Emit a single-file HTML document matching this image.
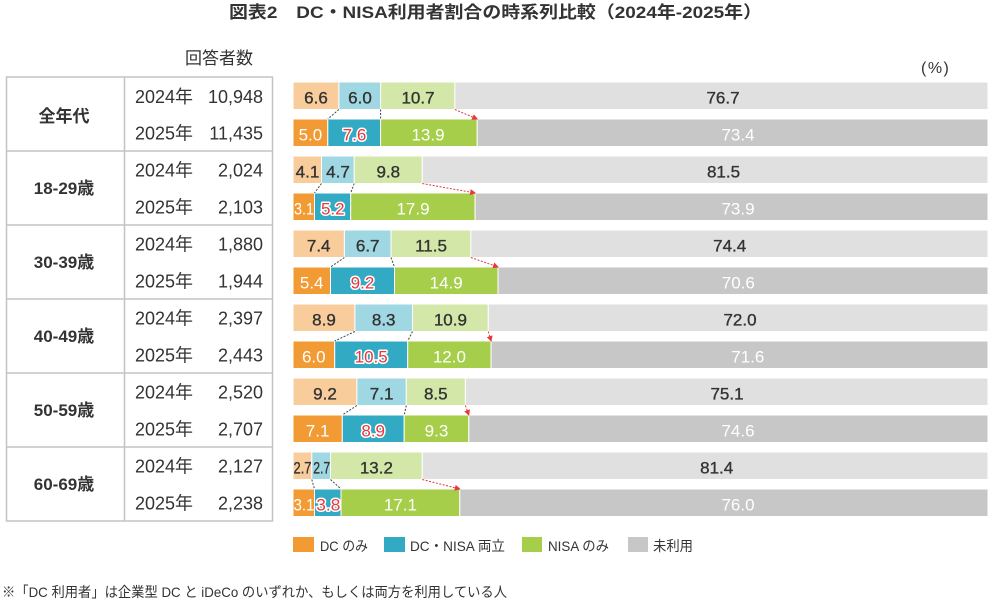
<!DOCTYPE html>
<html>
<head>
<meta charset="utf-8">
<style>
html,body{margin:0;padding:0;background:#fff;}
svg{display:block;}
text{font-family:"Liberation Sans","Noto Sans CJK JP",sans-serif;fill:#333;}
.t{font-size:18px;}
.g{font-size:17px;font-weight:bold;}
.n{font-size:17px;text-anchor:middle;}
.d{fill:#333;stroke:#333;stroke-width:0.35px;}
.w{fill:#fff;}
.r{fill:#e8383d;stroke:#fff;stroke-width:3px;paint-order:stroke;stroke-linejoin:round;}
.lg{font-size:14px;}
</style>
</head>
<body>
<svg width="1000" height="602" viewBox="0 0 1000 602" xmlns="http://www.w3.org/2000/svg">
<defs>
<marker id="ar" markerWidth="6" markerHeight="6" refX="5" refY="3" orient="auto" markerUnits="userSpaceOnUse">
<path d="M0,0 L6,3 L0,6 Z" fill="#e8383d"/>
</marker>
</defs>

<!-- Title -->
<text x="229" y="18" font-size="17" font-weight="bold" textLength="533" lengthAdjust="spacingAndGlyphs">図表2　DC・NISA利用者割合の時系列比較（2024年-2025年）</text>

<text x="185" y="64" font-size="17" textLength="68" lengthAdjust="spacingAndGlyphs">回答者数</text>
<text x="921" y="73" font-size="16" letter-spacing="1.5">(%)</text>

<!-- Table -->
<g stroke="#c3c3c3" stroke-width="1.5" fill="none">
<rect x="6.5" y="77" width="266" height="444"/>
<line x1="124.5" y1="77" x2="124.5" y2="521"/>
<line x1="6" y1="151" x2="273" y2="151"/>
<line x1="6" y1="225" x2="273" y2="225"/>
<line x1="6" y1="299" x2="273" y2="299"/>
<line x1="6" y1="373" x2="273" y2="373"/>
<line x1="6" y1="447" x2="273" y2="447"/>
</g>

<g class="g" text-anchor="middle">
<text x="64" y="122">全年代</text>
<text x="64" y="194">18-29歳</text>
<text x="64" y="268">30-39歳</text>
<text x="64" y="342">40-49歳</text>
<text x="64" y="416">50-59歳</text>
<text x="64" y="490">60-69歳</text>
</g>

<g class="t">
<text x="135" y="103" textLength="58" lengthAdjust="spacingAndGlyphs">2024年</text>
<text x="135" y="139.5" textLength="58" lengthAdjust="spacingAndGlyphs">2025年</text>
<text x="135" y="176.5" textLength="58" lengthAdjust="spacingAndGlyphs">2024年</text>
<text x="135" y="213.5" textLength="58" lengthAdjust="spacingAndGlyphs">2025年</text>
<text x="135" y="250.5" textLength="58" lengthAdjust="spacingAndGlyphs">2024年</text>
<text x="135" y="287.5" textLength="58" lengthAdjust="spacingAndGlyphs">2025年</text>
<text x="135" y="324.5" textLength="58" lengthAdjust="spacingAndGlyphs">2024年</text>
<text x="135" y="361.5" textLength="58" lengthAdjust="spacingAndGlyphs">2025年</text>
<text x="135" y="398.5" textLength="58" lengthAdjust="spacingAndGlyphs">2024年</text>
<text x="135" y="435.5" textLength="58" lengthAdjust="spacingAndGlyphs">2025年</text>
<text x="135" y="472.5" textLength="58" lengthAdjust="spacingAndGlyphs">2024年</text>
<text x="135" y="509.5" textLength="58" lengthAdjust="spacingAndGlyphs">2025年</text>
</g>
<g class="t" text-anchor="end">
<text x="263" y="103">10,948</text>
<text x="263" y="139.5">11,435</text>
<text x="263" y="176.5">2,024</text>
<text x="263" y="213.5">2,103</text>
<text x="263" y="250.5">1,880</text>
<text x="263" y="287.5">1,944</text>
<text x="263" y="324.5">2,397</text>
<text x="263" y="361.5">2,443</text>
<text x="263" y="398.5">2,520</text>
<text x="263" y="435.5">2,707</text>
<text x="263" y="472.5">2,127</text>
<text x="263" y="509.5">2,238</text>
</g>

<!-- Bars -->
<g stroke="#fff" stroke-width="1">
<rect x="293" y="82" width="45.9" height="27.5" fill="#f9cc9b"/>
<rect x="338.9" y="82" width="41.7" height="27.5" fill="#9fd7e3"/>
<rect x="380.6" y="82" width="74.3" height="27.5" fill="#d3e8a8"/>
<rect x="454.9" y="82" width="533.1" height="27.5" fill="#e0e0e0"/>
<rect x="293" y="119" width="34.8" height="27.5" fill="#f29b35"/>
<rect x="327.8" y="119" width="52.8" height="27.5" fill="#33aac3"/>
<rect x="380.6" y="119" width="96.6" height="27.5" fill="#a6ce4a"/>
<rect x="477.2" y="119" width="510.8" height="27.5" fill="#c7c7c7"/>
<rect x="293" y="156" width="28.5" height="27.5" fill="#f9cc9b"/>
<rect x="321.5" y="156" width="32.7" height="27.5" fill="#9fd7e3"/>
<rect x="354.2" y="156" width="68.1" height="27.5" fill="#d3e8a8"/>
<rect x="422.3" y="156" width="565.7" height="27.5" fill="#e0e0e0"/>
<rect x="293" y="193" width="21.5" height="27.5" fill="#f29b35"/>
<rect x="314.5" y="193" width="36.2" height="27.5" fill="#33aac3"/>
<rect x="350.7" y="193" width="124.4" height="27.5" fill="#a6ce4a"/>
<rect x="475.1" y="193" width="512.9" height="27.5" fill="#c7c7c7"/>
<rect x="293" y="230" width="51.4" height="27.5" fill="#f9cc9b"/>
<rect x="344.4" y="230" width="46.6" height="27.5" fill="#9fd7e3"/>
<rect x="391" y="230" width="79.9" height="27.5" fill="#d3e8a8"/>
<rect x="470.9" y="230" width="517.1" height="27.5" fill="#e0e0e0"/>
<rect x="293" y="267" width="37.5" height="27.5" fill="#f29b35"/>
<rect x="330.5" y="267" width="64" height="27.5" fill="#33aac3"/>
<rect x="394.5" y="267" width="103.5" height="27.5" fill="#a6ce4a"/>
<rect x="498" y="267" width="490" height="27.5" fill="#c7c7c7"/>
<rect x="293" y="304" width="61.9" height="27.5" fill="#f9cc9b"/>
<rect x="354.9" y="304" width="57.6" height="27.5" fill="#9fd7e3"/>
<rect x="412.5" y="304" width="75.8" height="27.5" fill="#d3e8a8"/>
<rect x="488.3" y="304" width="499.7" height="27.5" fill="#e0e0e0"/>
<rect x="293" y="341" width="41.7" height="27.5" fill="#f29b35"/>
<rect x="334.7" y="341" width="73" height="27.5" fill="#33aac3"/>
<rect x="407.7" y="341" width="83.4" height="27.5" fill="#a6ce4a"/>
<rect x="491.1" y="341" width="496.9" height="27.5" fill="#c7c7c7"/>
<rect x="293" y="378" width="63.9" height="27.5" fill="#f9cc9b"/>
<rect x="356.9" y="378" width="49.4" height="27.5" fill="#9fd7e3"/>
<rect x="406.3" y="378" width="59.1" height="27.5" fill="#d3e8a8"/>
<rect x="465.4" y="378" width="522.6" height="27.5" fill="#e0e0e0"/>
<rect x="293" y="415" width="49.3" height="27.5" fill="#f29b35"/>
<rect x="342.3" y="415" width="61.9" height="27.5" fill="#33aac3"/>
<rect x="404.2" y="415" width="64.6" height="27.5" fill="#a6ce4a"/>
<rect x="468.8" y="415" width="519.2" height="27.5" fill="#c7c7c7"/>
<rect x="293" y="452" width="18.8" height="27.5" fill="#f9cc9b"/>
<rect x="311.8" y="452" width="18.7" height="27.5" fill="#9fd7e3"/>
<rect x="330.5" y="452" width="91.8" height="27.5" fill="#d3e8a8"/>
<rect x="422.3" y="452" width="565.7" height="27.5" fill="#e0e0e0"/>
<rect x="293" y="489" width="21.5" height="27.5" fill="#f29b35"/>
<rect x="314.5" y="489" width="26.5" height="27.5" fill="#33aac3"/>
<rect x="341" y="489" width="118.8" height="27.5" fill="#a6ce4a"/>
<rect x="459.8" y="489" width="528.2" height="27.5" fill="#c7c7c7"/>
</g>

<!-- Connectors -->
<g stroke="#444" stroke-width="1" stroke-dasharray="2 1.5" fill="none">
<line x1="338.9" y1="109.5" x2="327.8" y2="119"/>
<line x1="380.6" y1="109.5" x2="380.6" y2="119"/>
<line x1="321.5" y1="183.5" x2="314.5" y2="193"/>
<line x1="354.2" y1="183.5" x2="350.7" y2="193"/>
<line x1="344.4" y1="257.5" x2="330.5" y2="267"/>
<line x1="391" y1="257.5" x2="394.5" y2="267"/>
<line x1="354.9" y1="331.5" x2="334.7" y2="341"/>
<line x1="412.5" y1="331.5" x2="407.7" y2="341"/>
<line x1="356.9" y1="405.5" x2="342.3" y2="415"/>
<line x1="406.3" y1="405.5" x2="404.2" y2="415"/>
<line x1="311.8" y1="479.5" x2="314.5" y2="489"/>
<line x1="330.5" y1="479.5" x2="341" y2="489"/>
</g>
<g stroke="#e8383d" stroke-width="1" stroke-dasharray="2 1.5" fill="none" marker-end="url(#ar)">
<line x1="454.9" y1="109.5" x2="477.2" y2="119"/>
<line x1="422.3" y1="183.5" x2="475.1" y2="193"/>
<line x1="470.9" y1="257.5" x2="498" y2="267"/>
<line x1="488.3" y1="331.5" x2="491.1" y2="341"/>
<line x1="465.4" y1="405.5" x2="468.8" y2="415"/>
<line x1="422.3" y1="479.5" x2="459.8" y2="489"/>
</g>

<!-- Bar labels -->
<g class="n">
<text class="d" x="316" y="103.5">6.6</text>
<text class="d" x="360" y="103.5">6.0</text>
<text class="d" x="418" y="103.5">10.7</text>
<text class="d" x="723" y="103.5">76.7</text>
<text class="w" x="310.4" y="140.5">5.0</text>
<text class="r" x="354.5" y="140.5">7.6</text>
<text class="w" x="428" y="140.5">13.9</text>
<text class="w" x="738" y="140.5">73.4</text>
<text class="d" x="307.5" y="177.5">4.1</text>
<text class="d" x="338" y="177.5">4.7</text>
<text class="d" x="388.3" y="177.5">9.8</text>
<text class="d" x="723.5" y="177.5">81.5</text>
<text class="w" x="304" y="214.5" textLength="20" lengthAdjust="spacingAndGlyphs">3.1</text>
<text class="r" x="332.8" y="214.5">5.2</text>
<text class="w" x="413" y="214.5">17.9</text>
<text class="w" x="738" y="214.5">73.9</text>
<text class="d" x="318.7" y="251.5">7.4</text>
<text class="d" x="367.7" y="251.5">6.7</text>
<text class="d" x="431" y="251.5">11.5</text>
<text class="d" x="729.7" y="251.5">74.4</text>
<text class="w" x="311.7" y="288.5">5.4</text>
<text class="r" x="362.5" y="288.5">9.2</text>
<text class="w" x="446.2" y="288.5">14.9</text>
<text class="w" x="738.3" y="288.5">70.6</text>
<text class="d" x="324" y="325.5">8.9</text>
<text class="d" x="383.7" y="325.5">8.3</text>
<text class="d" x="450.4" y="325.5">10.9</text>
<text class="d" x="740" y="325.5">72.0</text>
<text class="w" x="313.8" y="362.5">6.0</text>
<text class="r" x="371.2" y="362.5">10.5</text>
<text class="w" x="449.4" y="362.5">12.0</text>
<text class="w" x="747.8" y="362.5">71.6</text>
<text class="d" x="325" y="399.5">9.2</text>
<text class="d" x="381.6" y="399.5">7.1</text>
<text class="d" x="435.8" y="399.5">8.5</text>
<text class="d" x="727" y="399.5">75.1</text>
<text class="w" x="317.6" y="436.5">7.1</text>
<text class="r" x="373.2" y="436.5">8.9</text>
<text class="w" x="436.5" y="436.5">9.3</text>
<text class="w" x="738" y="436.5">74.6</text>
<text class="d" x="302.5" y="473.5" textLength="18" lengthAdjust="spacingAndGlyphs">2.7</text>
<text class="d" x="321.7" y="473.5" textLength="17" lengthAdjust="spacingAndGlyphs">2.7</text>
<text class="d" x="376.4" y="473.5">13.2</text>
<text class="d" x="716.7" y="473.5">81.4</text>
<text class="w" x="304" y="510.5" textLength="21" lengthAdjust="spacingAndGlyphs">3.1</text>
<text class="r" x="328.3" y="510.5" textLength="24" lengthAdjust="spacingAndGlyphs">3.8</text>
<text class="w" x="400.4" y="510.5">17.1</text>
<text class="w" x="738" y="510.5">76.0</text>
</g>

<!-- Legend -->
<rect x="293" y="537" width="21" height="15" fill="#f29b35"/>
<text class="lg" x="320" y="551" textLength="48" lengthAdjust="spacingAndGlyphs">DC のみ</text>
<rect x="384" y="537" width="21" height="15" fill="#33aac3"/>
<text class="lg" x="410" y="551" textLength="95" lengthAdjust="spacingAndGlyphs">DC・NISA 両立</text>
<rect x="522" y="537" width="20" height="15" fill="#a6ce4a"/>
<text class="lg" x="548" y="551" textLength="61" lengthAdjust="spacingAndGlyphs">NISA のみ</text>
<rect x="628" y="537" width="20" height="15" fill="#c7c7c7"/>
<text class="lg" x="653" y="551" textLength="40" lengthAdjust="spacingAndGlyphs">未利用</text>

<!-- Footnote -->
<text x="2" y="597" font-size="14" textLength="505" lengthAdjust="spacingAndGlyphs">※「DC 利用者」は企業型 DC と iDeCo のいずれか、もしくは両方を利用している人</text>
</svg>
</body>
</html>
